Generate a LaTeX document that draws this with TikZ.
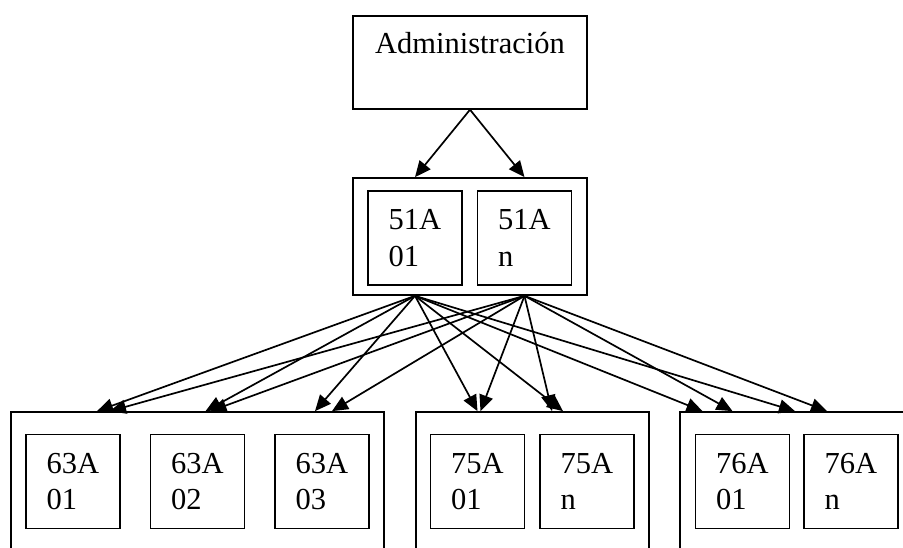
\documentclass[tikz,border=0pt]{standalone}
\usepackage{fontspec}
\setmainfont{Liberation Serif}
\usetikzlibrary{arrows.meta}

\begin{document}
\begin{tikzpicture}[x=1pt, y=1pt, line width=1.7pt, >={Triangle[length=16pt,width=14pt]},
    font=\fontsize{30.5}{36.5}\selectfont,
    cell/.style={draw, minimum width=94pt, minimum height=94pt, inner sep=0pt, align=left},
    group/.style={draw, inner sep=0pt, minimum height=188pt}]
    \clip (0,0) rectangle (903,548);
    \node[draw, anchor=north, minimum width=234pt, inner sep=0pt, text height=38pt, text depth=55pt] (adm) at (470,533) {Administración};
    \node[group, minimum width=234pt, minimum height=117pt] (g51) at (470,311.5) {};
    \node[cell] (c51a) at (415,310) {51A\\01};
    \node[cell, right of=c51a, node distance=109.5pt] (c51n) {51A\\n};
    % lower groups run past the bottom edge
    \node[group, minimum width=373pt] (g63) at (197.5,42) {};
    \node[group, minimum width=233pt] (g75) at (532.5,42) {};
    \node[group, minimum width=280pt] (g76) at (820,42) {};
    \node[cell] (c63a) at (73,66.5) {63A\\01};
    \node[cell, right of=c63a, node distance=124.5pt] (c63b) {63A\\02};
    \node[cell, right of=c63b, node distance=124.5pt] (c63c) {63A\\03};
    \node[cell] (c75a) at (477.5,66.5) {75A\\01};
    \node[cell, right of=c75a, node distance=109.5pt] (c75n) {75A\\n};
    \node[cell] (c76a) at (742.5,66.5) {76A\\01};
    \node[cell, right of=c76a, node distance=108.5pt] (c76n) {76A\\n};
    \draw[->] (adm.south) -- (c51a |- g51.north);
    \draw[->] (adm.south) -- (c51n |- g51.north);
    % from 51A 01
    \draw[->] (c51a |- g51.south) -- ([xshift=24pt]c63a |- g63.north);
    \draw[->] (c51a |- g51.south) -- ([xshift=8pt]c63b |- g63.north);
    \draw[->] (c51a |- g51.south) -- ([xshift=-7pt]c63c |- g63.north);
    \draw[->] (c51a |- g51.south) -- (c75a |- g75.north);
    \draw[->] (c51a |- g51.south) -- ([xshift=-24pt]c75n |- g75.north);
    \draw[->] (c51a |- g51.south) -- ([xshift=-40pt]c76a |- g76.north);
    \draw[->] (c51a |- g51.south) -- ([xshift=-56pt]c76n |- g76.north);
    % from 51A n
    \draw[->] (c51n |- g51.south) -- ([xshift=37pt]c63a |- g63.north);
    \draw[->] (c51n |- g51.south) -- ([xshift=13pt]c63b |- g63.north);
    \draw[->] (c51n |- g51.south) -- ([xshift=10pt]c63c |- g63.north);
    \draw[->] (c51n |- g51.south) -- ([xshift=3pt]c75a |- g75.north);
    \draw[->] (c51n |- g51.south) -- ([xshift=-35pt]c75n |- g75.north);
    \draw[->] (c51n |- g51.south) -- ([xshift=-10pt]c76a |- g76.north);
    \draw[->] (c51n |- g51.south) -- ([xshift=-24pt]c76n |- g76.north);
\end{tikzpicture}
\end{document}
